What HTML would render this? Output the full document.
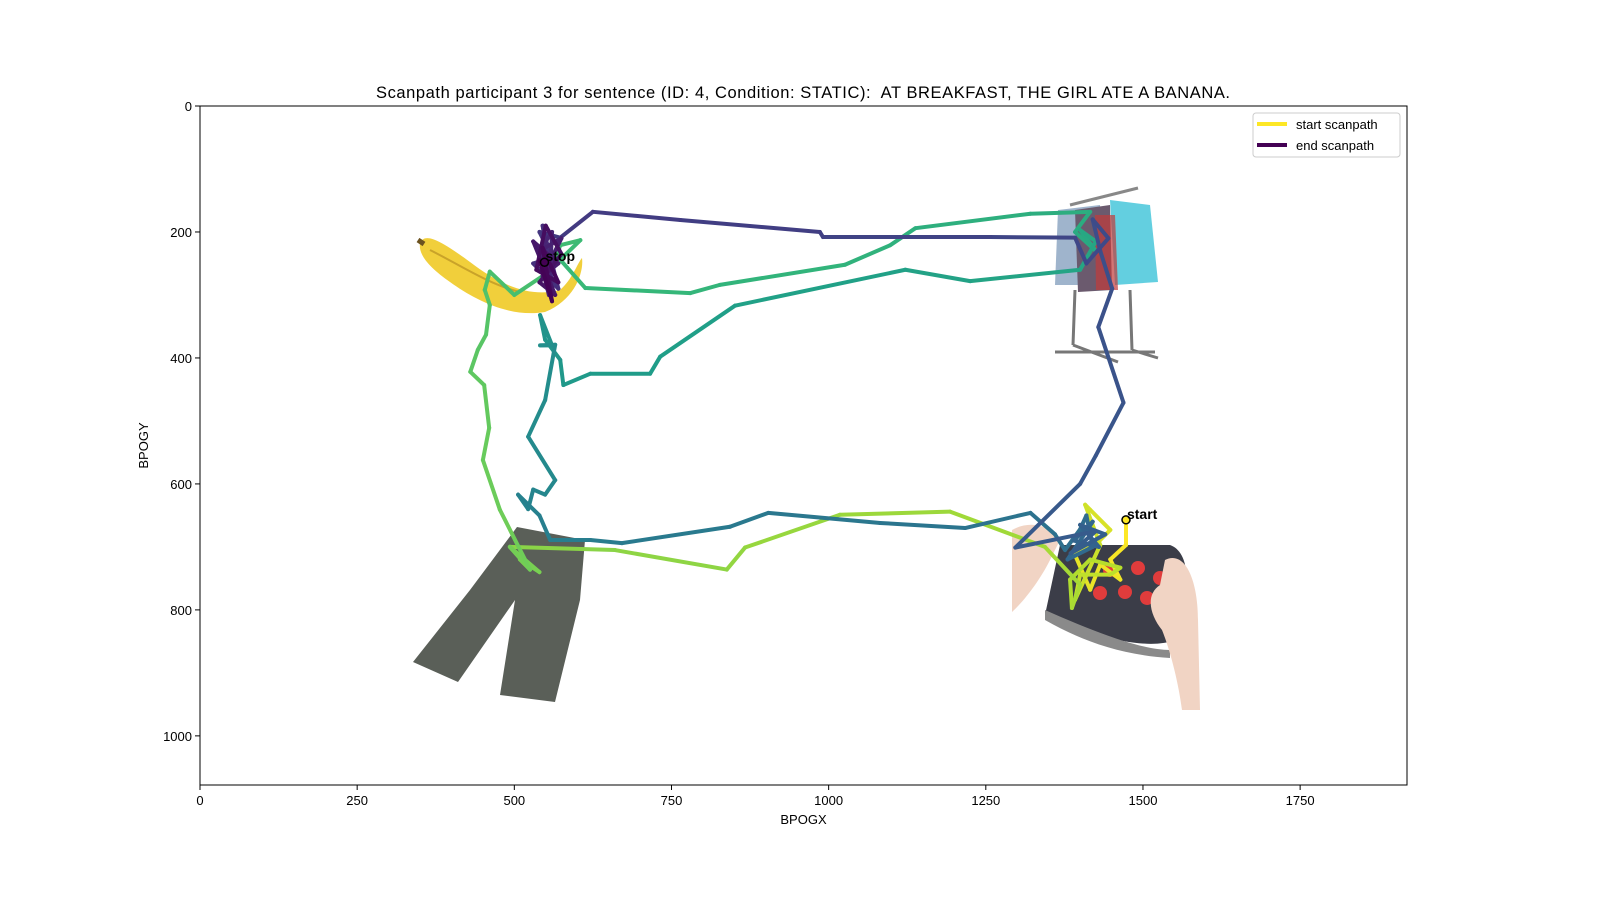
<!DOCTYPE html>
<html><head><meta charset="utf-8"><style>
html,body{margin:0;padding:0;background:#fff;}
svg{display:block;font-family:"Liberation Sans","DejaVu Sans",sans-serif;}
</style></head><body>
<svg id="chart" width="1600" height="900" viewBox="0 0 1600 900">
  <text x="803" y="98" text-anchor="middle" font-size="16.5" textLength="854" xml:space="preserve">Scanpath participant 3 for sentence (ID: 4, Condition: STATIC):  AT BREAKFAST, THE GIRL ATE A BANANA.</text>
  <g id="images">
    <g>
      <path d="M420,243 C425,232 440,240 470,262 C500,285 530,298 560,290 C572,280 578,262 582,258 C584,272 575,300 545,312 C510,318 475,300 450,282 C430,268 418,255 420,243 Z" fill="#f1cf3b"/>
      <path d="M430,250 C460,265 490,285 520,292" stroke="#c9a329" stroke-width="2" fill="none"/>
      <path d="M418,240 L424,244" stroke="#6b5220" stroke-width="5"/>
    </g>
    <g>
      <path d="M1070,205 L1138,188" stroke="#888" stroke-width="3"/>
      <path d="M1075,290 L1073,345 M1130,290 L1132,350 M1055,352 L1155,352 M1073,345 L1118,362 M1132,350 L1158,358" stroke="#777" stroke-width="3" fill="none"/>
      <path d="M1058,210 L1100,205 L1105,285 L1055,285 Z" fill="#9fb4cc"/>
      <path d="M1075,210 L1110,205 L1112,290 L1078,292 Z" fill="#6b5a6e"/>
      <path d="M1110,200 L1150,205 L1158,282 L1115,285 Z" fill="#63cfe0"/>
      <path d="M1095,215 L1115,215 L1118,290 L1096,290 Z" fill="#c03a3a" opacity="0.7"/>
    </g>
    <g>
      <path d="M517,527 L585,540 L580,600 L555,702 L500,695 L515,600 L458,682 L413,662 L470,590 Z" fill="#5a5f58"/>
    </g>
    <g>
      <path d="M1012,530 C1030,520 1050,525 1060,540 L1050,560 C1040,580 1025,600 1012,612 Z" fill="#f1d4c4"/>
      <path d="M1060,545 L1170,545 C1185,550 1192,575 1180,600 L1175,640 C1150,650 1100,640 1045,615 Z" fill="#3b3d48"/>
      <path d="M1045,610 C1090,630 1140,650 1170,650 L1170,658 C1120,655 1080,640 1045,620 Z" fill="#8a8a8a"/>
      <circle cx="1110" cy="570" r="7" fill="#e03c3c"/><circle cx="1138" cy="568" r="7" fill="#e03c3c"/><circle cx="1160" cy="578" r="7" fill="#e03c3c"/>
      <circle cx="1100" cy="593" r="7" fill="#e03c3c"/><circle cx="1125" cy="592" r="7" fill="#e03c3c"/><circle cx="1147" cy="598" r="7" fill="#e03c3c"/>
      <path d="M1165,560 C1185,550 1198,580 1198,620 L1200,710 L1182,710 C1178,680 1170,650 1162,630 C1150,615 1145,595 1160,585 Z" fill="#f1d4c4"/>
    </g>
  </g>
  <g id="axes"></g>
  <g id="path"></g>
  <g>
    <rect x="1253" y="113" width="147" height="44" rx="3" fill="#fff" fill-opacity="0.8" stroke="#ccc"/>
    <line x1="1257" y1="124" x2="1287" y2="124" stroke="#fde725" stroke-width="4"/>
    <text x="1296" y="129" font-size="13">start scanpath</text>
    <line x1="1257" y1="145" x2="1287" y2="145" stroke="#440154" stroke-width="4"/>
    <text x="1296" y="150" font-size="13">end scanpath</text>
  </g>
</svg>
<script>
const xTicks = [0, 250, 500, 750, 1000, 1250, 1500, 1750];
const yTicks = [0, 200, 400, 600, 800, 1000];
const gazeX = [1473,1473,1448,1464,1432,1416,1392,1432,1448,1416,1408,1432,1392,1400,1448,1464,1416,1384,1387,1400,1344,1193,1018,867,838,660,493,525,509,540,493,525,477,450,460,452,430,442,455,461,453,461,500,560,573,605,573,613,780,827,1026,1098,1138,1321,1416,1392,1425,1400,1425,1400,1225,1122,851,732,716,621,578,573,549,541,560,541,565,549,522,565,549,530,522,506,540,557,621,671,843,904,1082,1217,1321,1360,1376,1400,1410,1420,1380,1420,1390,1430,1400,1440,1385,1425,1297,1400,1425,1469,1429,1451,1432,1420,1445,1410,1392,1257,991,986,764,625,573,540,560,530,570,545,560,535,555,560,540,575,545,570,530,565,540,575,550,535,570,545,560,540,548];
const gazeY = [657,697,720,752,728,768,713,689,673,641,633,697,784,744,744,733,720,752,797,760,700,644,649,701,736,705,700,736,720,740,700,736,641,562,511,443,422,387,363,316,292,263,300,260,221,213,244,289,297,284,252,221,194,171,168,200,230,197,215,260,278,260,317,398,425,425,443,403,371,332,380,380,379,467,525,594,617,609,640,617,650,689,689,694,668,646,662,670,646,680,705,672,650,700,720,660,690,700,665,680,710,675,701,600,555,471,351,290,230,180,210,250,209,208,208,200,181,168,209,200,240,250,290,190,280,220,300,200,230,210,270,250,215,300,280,235,190,260,280,225,310,245,248];
const X0=200, X1=1407, Y0=106, Y1=785;
const sx = v => X0 + v/1920*(X1-X0);
const sy = v => Y0 + v/1078*(Y1-Y0);
const NS="http://www.w3.org/2000/svg";
function mk(tag, attrs, parent){const e=document.createElementNS(NS,tag);for(const k in attrs)e.setAttribute(k,attrs[k]);parent.appendChild(e);return e;}
const axes=document.getElementById('axes');
const frame=mk('rect',{x:X0,y:Y0,width:X1-X0,height:Y1-Y0,fill:'none',stroke:'#000','stroke-width':1},axes);


xTicks.forEach(t=>{
  const x=sx(t);
  mk('line',{x1:x,y1:Y1,x2:x,y2:Y1+5,stroke:'#000'},axes);
  const tx=mk('text',{x:x,y:Y1+20,'text-anchor':'middle','font-size':13},axes);
  tx.textContent=t;
  
  
});
yTicks.forEach(t=>{
  const y=sy(t);
  mk('line',{x1:X0-5,y1:y,x2:X0,y2:y,stroke:'#000'},axes);
  const ty=mk('text',{x:X0-8,y:y+5,'text-anchor':'end','font-size':13},axes);
  ty.textContent=t;
  
  
});
const xl=mk('text',{x:(X0+X1)/2,y:824,'text-anchor':'middle','font-size':13},axes);
xl.textContent='BPOGX';


const yl=mk('text',{x:148,y:(Y0+Y1)/2,'text-anchor':'middle','font-size':13,transform:`rotate(-90 148 ${(Y0+Y1)/2})`},axes);
yl.textContent='BPOGY';


const vir=[[68,1,84],[72,40,120],[62,74,137],[49,104,142],[38,130,142],[31,158,137],[53,183,121],[109,205,89],[180,222,44],[253,231,37]];
function viridis(t){t=Math.max(0,Math.min(1,t))*(vir.length-1);const i=Math.min(Math.floor(t),vir.length-2),f=t-i;const c=vir[i].map((v,k)=>Math.round(v+(vir[i+1][k]-v)*f));return `rgb(${c})`;}
const pg=document.getElementById('path');
const n=gazeX.length;
for(let i=0;i<n-1;i++){
  const s=mk('line',{x1:sx(gazeX[i]),y1:sy(gazeY[i]),x2:sx(gazeX[i+1]),y2:sy(gazeY[i+1]),stroke:viridis(1-i/(n-2)),'stroke-width':4,'stroke-linecap':'round'},pg);
  
  
}
const sc=mk('circle',{cx:sx(gazeX[0]),cy:sy(gazeY[0]),r:4,fill:'#fde725',stroke:'#000','stroke-width':1.5},pg);


const st=mk('text',{x:sx(gazeX[0])+1,y:sy(gazeY[0])-1,'font-size':14,'font-weight':'bold'},pg);
st.textContent='start';


const ec=mk('circle',{cx:sx(gazeX[n-1]),cy:sy(gazeY[n-1]),r:4,fill:'#440154',stroke:'#000','stroke-width':1.5},pg);


const et=mk('text',{x:sx(gazeX[n-1])+1,y:sy(gazeY[n-1])-1,'font-size':14,'font-weight':'bold'},pg);
et.textContent='stop';


</script>
</body></html>
